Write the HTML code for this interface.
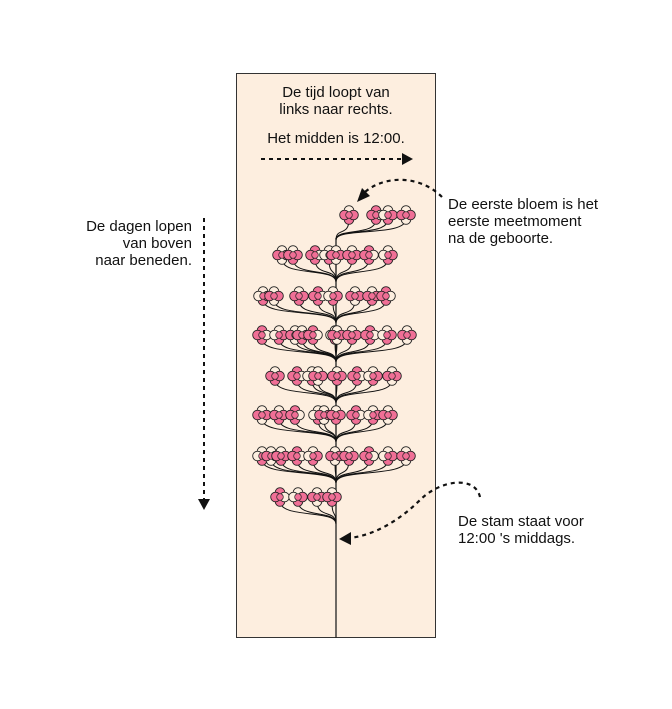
<!DOCTYPE html>
<html><head><meta charset="utf-8"><style>
html,body{margin:0;padding:0;background:#fff;}
svg{display:block;font-family:"Liberation Sans",sans-serif;}
</style></head><body>
<svg id="s" width="672" height="709" viewBox="0 0 672 709" xmlns="http://www.w3.org/2000/svg">
<rect x="236.5" y="73.5" width="199" height="564" fill="#fdeedf" stroke="#333" stroke-width="1"/>
<line x1="336" y1="238" x2="336" y2="638" stroke="#222" stroke-width="1.3"/>
<g font-size="15" fill="#111" text-anchor="middle">
<text x="336" y="97">De tijd loopt van</text>
<text x="336" y="114">links naar rechts.</text>
<text x="336" y="143">Het midden is 12:00.</text>
</g>
<line x1="261" y1="159" x2="404" y2="159" stroke="#111" stroke-width="2" stroke-dasharray="4,4"/>
<path d="M402,153 L413,159 L402,165z" fill="#111"/>
<g font-size="15" fill="#111">
<text x="448" y="209">De eerste bloem is het</text>
<text x="448" y="226">eerste meetmoment</text>
<text x="448" y="243">na de geboorte.</text>
<text x="458" y="526">De stam staat voor</text>
<text x="458" y="543">12:00 's middags.</text>
</g>
<g font-size="15" fill="#111" text-anchor="end">
<text x="192" y="231">De dagen lopen</text>
<text x="192" y="248">van boven</text>
<text x="192" y="265">naar beneden.</text>
</g>
<line x1="204" y1="218" x2="204" y2="500" stroke="#111" stroke-width="2" stroke-dasharray="4,4"/>
<path d="M198,499 L204,510 L210,499z" fill="#111"/>
<path d="M442,197 C420,175 385,175 365,192" fill="none" stroke="#111" stroke-width="2.2" stroke-dasharray="4,4"/>
<path d="M357,202 L362,188 L370,196z" fill="#111"/>
<path d="M480,497 C475,475 440,480 420,500 C400,520 375,535 350,538" fill="none" stroke="#111" stroke-width="2.2" stroke-dasharray="4,4"/>
<path d="M339,539 L351,532 L351,545z" fill="#111"/>
<g id="tree"></g>
</svg>
<script>
var rows=[
[215,[349,376,388,406]],
[255,[282,293,315,329,336,352,369,388]],
[296,[263,274,299,318,333,355,372,386]],
[335,[262,279,295,302,313,335,337,352,370,387,407]],
[376,[275,297,312,318,337,357,373,392]],
[415,[262,279,295,318,324,336,356,373,388]],
[456,[262,271,281,297,313,335,349,369,388,406]],
[497,[280,298,317,332]]];
var P="#f06f96",W="#fdeedf";
var curves="",flowers="";
rows.forEach(function(r,ri){
 var y=r[0],cy=(ri==0)?240:y+27;
 r[1].forEach(function(x,i){
  curves+='<path d="M'+x+','+(y+4)+' C'+x+','+(y+22)+' 336,'+(y+12)+' 336,'+cy+'" fill="none" stroke="#111" stroke-width="1"/>';
  var k=(ri*3+i)%4;
  var t=k==0?W:(k==1?P:W), b=k==3?W:P, l=k==2?W:P, rr=k==1?W:P;
  var o=4.5,rad=4.8;
  flowers+='<circle cx="'+x+'" cy="'+(y-o)+'" r="'+rad+'" fill="'+t+'" stroke="#222" stroke-width="0.9"/>';
  flowers+='<circle cx="'+x+'" cy="'+(y+o)+'" r="'+rad+'" fill="'+b+'" stroke="#222" stroke-width="0.9"/>';
  flowers+='<circle cx="'+(x-o)+'" cy="'+y+'" r="'+rad+'" fill="'+l+'" stroke="#222" stroke-width="0.9"/>';
  flowers+='<circle cx="'+(x+o)+'" cy="'+y+'" r="'+rad+'" fill="'+rr+'" stroke="#222" stroke-width="0.9"/>';
  flowers+='<circle cx="'+x+'" cy="'+y+'" r="3.3" fill="'+P+'" stroke="#222" stroke-width="0.7"/>';
 });
});
document.getElementById("tree").innerHTML=curves+flowers;
</script>
</body></html>
